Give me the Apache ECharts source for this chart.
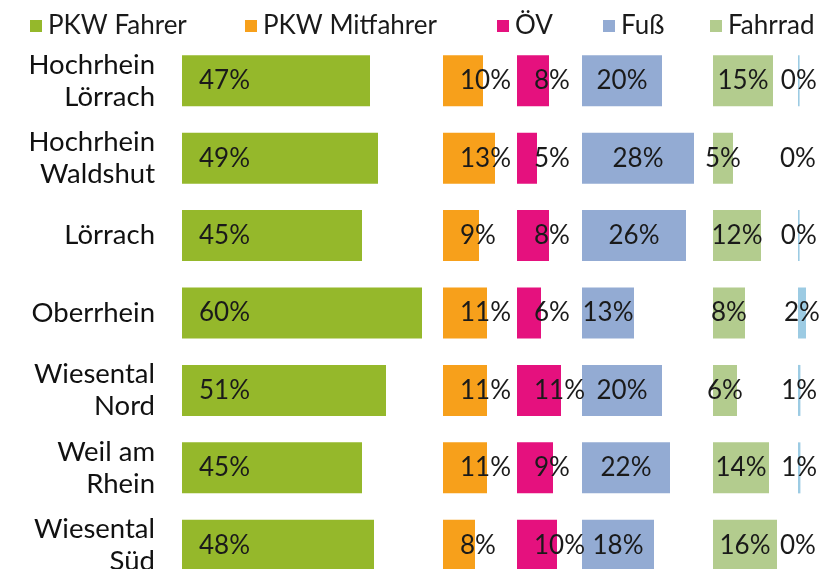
<!DOCTYPE html>
<html>
<head>
<meta charset="utf-8">
<title>Verkehrsmittelwahl</title>
<script src="https://cdn.jsdelivr.net/npm/echarts@6/dist/echarts.min.js"></script>
<style>
  html, body { margin: 0; padding: 0; background: #fff; }
  #chart { width: 836px; height: 569px; }
</style>
</head>
<body>
<div id="chart"></div>
<script>
// Daten (Anteile in %)
const regions = ['Hochrhein\nLörrach', 'Hochrhein\nWaldshut', 'Lörrach', 'Oberrhein', 'Wiesental\nNord', 'Weil am\nRhein', 'Wiesental\nSüd']
const pkwFahrer = [47, 49, 45, 60, 51, 45, 48]
const pkwMitfahrer = [10, 13, 9, 11, 11, 11, 8]
const oev = [8, 5, 8, 6, 11, 9, 10]
const fuss = [20, 28, 26, 13, 20, 22, 18]
const fahrrad = [15, 5, 12, 8, 6, 14, 16]
const sonstige = [0.4, 0, 0.4, 2, 0.6, 0.6, 0]

// je Verkehrsmittel eine eigene Spalte (eigenes Grid)
const cols = [
  { name: 'PKW Fahrer', data: pkwFahrer, color: '#95b82b', left: 182, max: 62, label: 'insideLeft', legend: 25 },
  { name: 'PKW Mitfahrer', data: pkwMitfahrer, color: '#f7a01b', left: 443, max: 15, label: 'insideLeft', legend: 240 },
  { name: 'ÖV', data: oev, color: '#e5117e', left: 517, max: 15, label: 'insideLeft', legend: 492 },
  { name: 'Fuß', data: fuss, color: '#93abd3', left: 582, max: 30, label: 'inside', legend: 598 },
  { name: 'Fahrrad', data: fahrrad, color: '#b3cc8e', left: 713, max: 18, label: 'inside', legend: 705 },
  { name: 'Sonstige', data: sonstige, color: '#9ccbe3', left: 798, max: 5, label: 'inside', legend: null }
]
const pxPerPct = 4
const font = 'Lato, "Open Sans", sans-serif'

const chart = echarts.init(document.getElementById('chart'))
chart.setOption({
  backgroundColor: '#fff',
  animation: false,
  legend: cols.filter(c => c.legend !== null).map(c => ({
    data: [c.name],
    left: c.legend,
    top: 6,
    itemWidth: 12,
    itemHeight: 12,
    icon: 'rect',
    selectedMode: false,
    textStyle: { fontFamily: font, fontSize: 26, color: '#1a1a1a', lineHeight: 30, padding: [0, 0, 0, 1] }
  })),
  grid: cols.map(c => ({
    left: c.left,
    top: 42,
    width: c.max * pxPerPct,
    height: 542,
    outerBoundsMode: 'none'
  })),
  xAxis: cols.map((c, i) => ({
    type: 'value',
    gridIndex: i,
    min: 0,
    max: c.max,
    show: false
  })),
  yAxis: cols.map((c, i) => ({
    type: 'category',
    gridIndex: i,
    data: regions,
    inverse: true,
    axisLine: { show: false },
    axisTick: { show: false },
    splitLine: { show: false },
    axisLabel: {
      show: i === 0,
      margin: 27,
      fontFamily: font,
      fontSize: 27.5,
      lineHeight: 32,
      color: '#111',
      align: 'right'
    }
  })),
  series: cols.map((c, i) => ({
    name: c.name,
    type: 'bar',
    xAxisIndex: i,
    yAxisIndex: i,
    data: c.data,
    barWidth: 51,
    itemStyle: { color: c.color },
    label: {
      show: true,
      position: c.label,
      distance: 17,
      formatter: p => Math.round(p.value) + '%',
      fontFamily: font,
      fontSize: 26,
      color: '#1a1a1a'
    }
  }))
})
</script>
</body>
</html>
